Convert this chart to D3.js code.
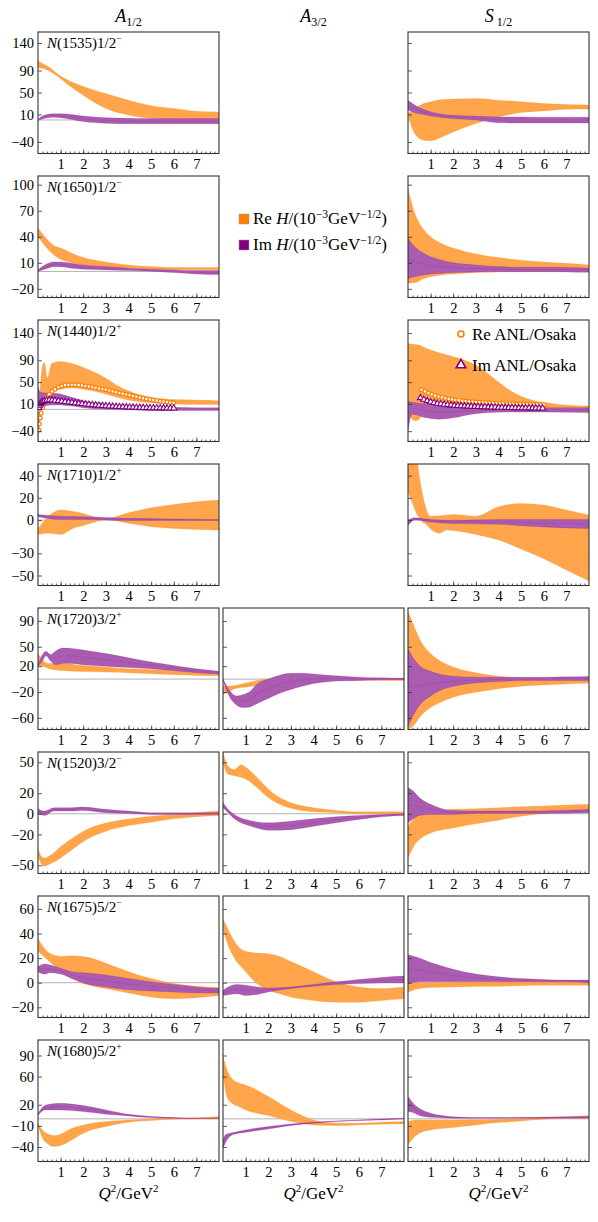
<!DOCTYPE html>
<html>
<head>
<meta charset="utf-8">
<script src="https://cdn.jsdelivr.net/npm/d3@7"></script>
<style>
body { margin: 0; background: #fff; }
svg text { font-family: "Liberation Serif", "Times New Roman", serif; fill: #000; }
</style>
</head>
<body>
<svg id="chart" width="598" height="1222"></svg>
<script>
// ---- data: [Q2, lower, upper] of each band ----
var n1535_A12_re = [[0,96,107],[0.5,89,96],[1,75,80],[1.5,59,69],[2,45,61],[3,21,48],[4,9,36],[5,3,26],[6,1.5,21],[7,1,16],[8,1,14.5]];
var n1535_A12_im = [[0,-1,1],[0.3,3,9],[0.7,5,11.5],[1,4,11.5],[1.5,1,10],[2,-3,7],[3,-6,4],[4,-7,3],[5,-7,2.5],[6,-7,2.5],[7,-7,2.5],[8,-7,2.5]];
var n1535_S12_re = [[0,8.5,11.5],[0.3,-25,21],[0.7,-37,30],[1,-38,33],[1.5,-31,37],[2,-22,38],[3,-6.5,39],[4,5.5,36],[5,13.5,33],[6,16.5,30],[7,19.5,28],[8,20,27]];
var n1535_S12_im = [[0,18,36],[0.3,13,27],[0.7,10,19],[1,7,15],[1.5,4.5,10.5],[2,2.5,8.5],[3,0,7],[4,-5,5.5],[5,-5.5,5.5],[6,-5.5,5],[7,-5.5,5],[8,-5.5,5]];

var n1650_A12_re = [[0,40,50],[0.3,30,40],[0.7,19,30],[1,14,27],[1.5,10,21],[2,7.5,16],[3,5,11],[4,3.7,7.5],[5,2.5,5.6],[6,2,4.5],[7,2,4.5],[8,2,4.5]];
var n1650_A12_im = [[0,0,2],[0.3,2.5,7.5],[0.7,5.5,11],[1,5.5,11],[1.5,3.7,9.5],[2,2.5,7.5],[3,1.8,5.6],[4,1,3.7],[5,0.3,2.5],[6,-1.3,1.8],[7,-2.8,1],[8,-3.6,1]];
var n1650_S12_re = [[0,-13.5,95],[0.3,-13,67],[0.7,-8,48],[1,-6,40],[1.5,-4,32],[2,-3,27],[3,-1.3,20],[4,-0.5,16],[5,-0.2,13],[6,-0.2,11],[7,-0.2,9.5],[8,-0.2,7.5]];
var n1650_S12_im = [[0,-8,38],[0.3,-6,28.5],[0.7,-4,21],[1,-3,17],[1.5,-2,13],[2,-1.3,10],[3,-0.5,7.5],[4,-0.2,5.6],[5,-0.2,4.8],[6,-0.2,4.8],[7,-0.5,4.5],[8,-1,3.7]];

var n1440_A12_re = [[0,-59,-40],[0.1,-20,40],[0.2,10,80],[0.28,22,86],[0.42,28,58],[0.6,31,84],[1,37,88],[1.5,39,84],[2,37,77],[2.5,33,68],[3,28,57],[3.5,22,44],[4,17,34],[5,12,22],[6,10,18],[7,9,17],[8,9,16]];
var n1440_A12_im = [[0,2,42],[0.1,4,32],[0.3,6,30],[0.6,8,30],[1,8,28],[1.5,6,22],[2,3,16],[3,0,10],[4,-1,7],[5,-2,5],[6,-2,4],[7,-2,3],[8,-2,3]];
var n1440_S12_re = [[0,-6,121],[0.3,-21,119],[0.5,-18,118],[0.7,-2,114],[1,3,109],[1.7,5,100],[2.5,5,90],[3.2,4,76],[4,3,50],[4.7,2.5,30],[5.4,2,18],[6.5,2,10],[8,2,6]];
var n1440_S12_im = [[0,-40,15],[0.18,-9,13],[0.75,-15,10],[1.35,-18,8],[2.1,-15,6],[2.8,-9,5],[4.3,-5,3],[6,-5,3],[8,-6,3]];

var n1710_A12_re = [[0,-13,-8],[0.5,-12,4],[1,-13,9],[1.5,-8,8],[2,-5,6],[2.5,-2,3],[3,0.4,1.3],[4,-3,6.5],[5,-6,11],[6,-7.7,14],[7,-8.6,16.4],[8,-9.2,18]];
var n1710_A12_im = [[0,3,5],[1,0.4,3.4],[2,0.5,3],[4,-0.5,1.5],[6,-0.5,1],[8,-0.5,0.5]];
var n1710_S12_re = [[0,25,90],[0.2,15,75],[0.4,5,55],[0.5,2,40],[0.6,-1,28],[0.75,-3,14],[0.9,-6,5],[1,-8,3.5],[1.4,-12,3.8],[1.7,-9,4.5],[2,-9.5,5],[3,-13,3.5],[4,-18,12],[5,-26,15],[6,-35,13.5],[7,-45,9],[8,-55,4.5]];
var n1710_S12_im = [[0,-5,0],[0.3,0,2],[0.7,-0.8,1.3],[1,-1.7,0.4],[2,-3.2,-0.2],[4,-3.8,0.4],[6,-6.2,0.4],[8,-7.7,0.4]];

var n1720_A12_re = [[0,21,40],[0.3,18.6,26.4],[0.5,16,24],[1,13.4,24],[2,11.8,21],[3,10.8,18.6],[4,9.7,16],[5,8.2,15],[6,6.6,13.4],[7,5.6,10.8],[8,5,8.2]];
var n1720_A12_im = [[0,20,22],[0.2,28,38],[0.35,36,43],[0.55,28,38],[0.8,22,44],[1.1,24,48],[1.5,24,47.5],[2,22,45],[3,20,39.5],[4,18,33],[5,16,26.5],[6,13,21],[7,10,16],[8,8,12]];
var n1720_A32_re = [[0,-23,-10],[0.2,-21.6,-11],[0.5,-15,-10],[1,-12.7,-6],[2,-7.5,0.3],[3,-3.8,1.4],[4,-2,1],[6,-2,1],[8,-2,1]];
var n1720_A32_im = [[0,-2,0],[0.3,-28,-18],[0.6,-40,-26],[0.9,-44,-24],[1.2,-43,-19],[1.5,-38,-8],[2,-30,0],[2.5,-22,6],[3,-16,9],[3.5,-11,9],[4,-7,8],[5,-3,5],[6,-2,3],[7,-1,2],[8,-1,1.5]];
var n1720_S12_re = [[0,-78,105],[0.3,-70,79],[0.5,-60,63],[1,-44,39.5],[1.5,-35,26.4],[2,-28,18.6],[3,-20.5,9.7],[4,-15,4.5],[5,-11,1.9],[6,-9,0.3],[7,-7.5,0.3],[8,-6.5,0.3]];
var n1720_S12_im = [[0,-73,47],[0.3,-52,29],[0.5,-41,21],[1,-26,12],[1.5,-16.4,6.6],[2,-11.2,4.5],[3,-6,3],[4,-3.8,3],[5,-2.3,3],[6,-2.3,3],[7,-2.3,3.5],[8,-2.3,4]];

var n1520_A12_re = [[0,-41,-35],[0.25,-51,-43],[0.5,-49,-41],[1,-43,-32],[1.5,-35,-24],[2,-27,-17],[3,-17,-9],[4,-11.5,-5],[5,-8.2,-2.3],[6,-4.9,-0.6],[7,-2.9,1],[8,-1.6,2.6]];
var n1520_A12_im = [[0,0.3,5],[0.3,-1.6,2.6],[0.7,2.6,5.9],[1,2.6,5.9],[1.5,2.6,5.9],[2,3.3,6.6],[3,1,4.3],[4,0.3,2.6],[5,-0.6,1],[6,-0.6,1],[7,-0.6,1],[8,-0.6,1]];
var n1520_A32_re = [[0,50,60],[0.2,38.7,46.9],[0.5,37,43],[0.8,35.4,47.5],[1,33.8,45.2],[1.5,25.6,35.4],[2,15.7,24],[2.5,9.2,15.7],[3,5.3,10.8],[4,2,5.9],[5,1,3.3],[6,0,2],[7,0,2],[8,0,2]];
var n1520_A32_im = [[0,5.9,10.8],[0.3,-0.6,2.6],[0.5,-4.9,-0.6],[1,-10.5,-5.6],[1.5,-13.8,-7.9],[2,-16,-8.8],[3,-15.4,-7.2],[4,-12.1,-4.9],[5,-8.8,-2.9],[6,-5.6,-1.6],[7,-2.9,-0.6],[8,-1.6,0]];
var n1520_S12_re = [[0,-43,-12],[0.3,-30,-3.9],[0.5,-25,-0.6],[1,-18.7,1.7],[2,-13.8,4.3],[3,-9.8,5],[4,-6.2,5.9],[5,-2.3,6.9],[6,0.3,7.6],[7,2.6,8.5],[8,4.3,9.2]];
var n1520_S12_im = [[0,-8.8,25.6],[0.3,-3.9,20.7],[0.5,-1.6,15.7],[1,-0.6,9.2],[1.5,-0.6,5],[2,-0.6,3.3],[3,0.3,2.6],[5,0.3,2.6],[7,0.5,3.5],[8,1,4.3]];

var n1675_A12_re = [[0,25.5,35.7],[0.5,17.2,24.1],[1,9,21.4],[1.5,3.4,21.9],[2,-0.7,21.4],[2.5,-3,19.2],[3,-4.8,15.9],[4,-8.4,9],[5,-11.7,3.4],[6,-13.1,-0.7],[7,-12.3,-2.9],[8,-10.4,-4]];
var n1675_A12_im = [[0,9,13.1],[0.3,7,15.3],[0.5,8.1,14.5],[1,7,11.7],[1.5,3.4,9],[2,-0.2,8.1],[3,-3.5,6.2],[4,-5.7,3.4],[5,-6.8,0.7],[6,-7.6,-1.5],[7,-8.4,-3.5],[8,-8.4,-4.8]];
var n1675_A32_re = [[0,43.5,51.7],[0.3,26.9,40.7],[0.5,20,33.8],[1,9,25.5],[1.5,-0.7,24.1],[2,-6.2,23.6],[2.5,-9,21.4],[3,-11.7,17.2],[4,-14.5,9],[5,-15.9,0.7],[6,-15.9,-3.5],[7,-14.5,-4.8],[8,-13.1,-3.5]];
var n1675_A32_im = [[0,-10.4,-6.2],[0.3,-9.5,-2.9],[0.6,-9,-1.5],[1,-10.4,-2.1],[1.5,-9.5,-3.5],[2,-7.6,-4.3],[3,-4.8,-3.5],[4,-2.9,-1.5],[5,-1.5,0.7],[6,-0.7,2.6],[7,-0.2,4.3],[8,-0.2,5.4]];
var n1675_S12_re = [[0,-7.6,0],[0.5,-4.8,0],[1,-4,0],[2,-3.5,0.3],[4,-2.9,1],[6,-2.1,1.3],[8,-2.1,1.5]];
var n1675_S12_im = [[0,-0.7,22.7],[0.5,0.7,20],[1,0.7,16.4],[1.5,0.7,13.6],[2,0.7,10.9],[3,0.7,7],[4,0.7,4.8],[5,0.7,3.4],[6,0.7,2.6],[7,0.7,2.1],[8,-0.2,2.1]];

var n1680_A12_re = [[0,-8.6,-6.2],[0.2,-27.5,-16],[0.4,-34.6,-21],[0.7,-39.3,-23.7],[1,-37.9,-21.8],[1.5,-29.9,-13.3],[2,-20.4,-8.6],[3,-11,-3.9],[4,-4.8,-1.5],[5,-2.5,-0.1],[6,-0.6,0.9],[7,-0.1,1.5],[8,0,3.2]];
var n1680_A12_im = [[0,4.7,8],[0.3,12.7,18.8],[0.5,12.7,20.7],[1,12.7,22.1],[2,10.3,18.8],[3,6.5,12.7],[4,4.2,6.5],[5,1.8,3.2],[6,0.9,1.8],[7,0.5,0.9],[8,0.5,0.9]];
var n1680_A32_re = [[0,62.3,88.4],[0.2,29.2,68],[0.4,22.1,57],[0.7,17.4,51],[1,12.7,48.2],[1.5,8,41.1],[2,4.7,31.6],[2.5,0.5,22.1],[3,-3.9,12.7],[3.5,-6.5,4.7],[4,-8.6,-1.5],[5,-9.5,-6.2],[6,-8.6,-6.2],[7,-7.6,-4.8],[8,-7.2,-3.9]];
var n1680_A32_im = [[0,-41.7,-29.9],[0.1,-34.6,-22.8],[0.3,-25.1,-20.4],[0.5,-21.8,-19],[1,-19,-15.7],[2,-14.3,-11],[3,-9.5,-7.2],[4,-6.2,-4.8],[5,-3.9,-2.9],[6,-2.5,-1.5],[7,-1.5,-0.1],[8,-0.1,0.9]];
var n1680_S12_re = [[0,-36.9,-3.9],[0.3,-25.1,-1.5],[0.5,-20.4,-1.5],[1,-15.7,-1.5],[2,-12.4,-1.5],[3,-8.6,-1],[4,-5.3,-0.5],[5,-2.9,-0.1],[6,-0.6,1.8],[7,0.9,3],[8,0.9,4.7]];
var n1680_S12_im = [[0,10.3,31.6],[0.3,8,19.8],[0.5,4.7,15],[1,2.3,8],[1.5,1.5,4.7],[2,0.9,2.8],[3,0.9,1.8],[8,0.9,3.2]];

// ANL/Osaka points for N(1440): [Q2, value]
var anl_A12_re = [[0.03,-38],[0.06,-27],[0.1,-16],[0.14,-7],[0.2,3],[0.28,13],[0.38,21],[0.5,28],[0.62,33],[0.75,37],[0.9,41],[1.05,43],[1.2,44.5],[1.35,45],[1.5,45],[1.65,45],[1.8,44.5],[1.95,44],[2.1,43],[2.25,42],[2.4,40.8],[2.55,39.5],[2.7,38.2],[2.85,37],[3,36],[3.15,34.5],[3.3,33],[3.45,31.5],[3.6,30],[3.75,28.5],[3.9,27.2],[4.05,25.8],[4.2,24.4],[4.35,23],[4.5,21.6],[4.65,20.4],[4.8,19.2],[4.95,18],[5.1,17],[5.25,16],[5.4,15],[5.55,14.2],[5.7,13.4],[5.85,12.7],[6,12]];
var anl_A12_im = [[0.03,3],[0.06,7],[0.1,10],[0.14,12],[0.2,14],[0.28,15.5],[0.38,16.5],[0.5,17],[0.62,16.8],[0.75,16.3],[0.9,15.6],[1.05,14.8],[1.2,14],[1.35,13.2],[1.5,12.4],[1.65,11.6],[1.8,10.9],[1.95,10.2],[2.1,9.5],[2.25,8.9],[2.4,8.3],[2.55,7.7],[2.7,7.2],[2.85,6.7],[3,6.2],[3.15,5.8],[3.3,5.4],[3.45,5],[3.6,4.7],[3.75,4.4],[3.9,4.1],[4.05,3.8],[4.2,3.6],[4.35,3.4],[4.5,3.2],[4.65,3],[4.8,2.8],[4.95,2.6],[5.1,2.5],[5.25,2.4],[5.4,2.3],[5.55,2.2],[5.7,2.1],[5.85,2],[6,1.9]];
var anl_S12_re = [[0.6,36],[0.75,33],[0.9,30],[1.05,27.5],[1.2,25.5],[1.35,23.5],[1.5,22],[1.65,20.5],[1.8,19.3],[1.95,18.2],[2.1,17.2],[2.25,16.4],[2.4,15.6],[2.55,15],[2.7,14.4],[2.85,13.9],[3,13.4],[3.15,13],[3.3,12.6],[3.45,12.2],[3.6,11.9],[3.75,11.6],[3.9,11.3],[4.05,11],[4.2,10.8],[4.35,10.5],[4.5,10.3],[4.65,10.1],[4.8,9.9],[4.95,9.7],[5.1,9.5],[5.25,9.3],[5.4,9.2],[5.55,9],[5.7,8.9],[5.85,8.7],[6,8.6]];
var anl_S12_im = [[0.55,21],[0.7,18],[0.85,15.5],[1,13.5],[1.15,12],[1.3,10.8],[1.45,9.8],[1.6,9],[1.75,8.3],[1.9,7.7],[2.05,7.2],[2.2,6.7],[2.35,6.3],[2.5,5.9],[2.65,5.6],[2.8,5.3],[2.95,5],[3.1,4.7],[3.25,4.5],[3.4,4.3],[3.55,4.1],[3.7,3.9],[3.85,3.7],[4,3.5],[4.15,3.3],[4.3,3.2],[4.45,3],[4.6,2.9],[4.75,2.8],[4.9,2.6],[5.05,2.5],[5.2,2.4],[5.35,2.3],[5.5,2.2],[5.65,2.1],[5.8,2],[5.95,1.9]];

// states, y ranges and tick labels per row
var masses = ["1535", "1650", "1440", "1710", "1720", "1520", "1675", "1680"];
var spins = ["1/2", "1/2", "1/2", "1/2", "3/2", "3/2", "5/2", "5/2"];
var parities = ["\u2212", "\u2212", "+", "+", "+", "\u2212", "\u2212", "+"];
var yRanges = [[-61,160],[-30,110],[-59,164],[-59,50.5],[-78,110],[-58,60],[-28.3,70.5],[-60.6,112]];
var yTicks = [[140,90,50,10,-40],[100,70,40,10,-20],[140,90,50,10,-40],[40,20,0,-30,-50],[90,50,20,-20,-60],[50,20,0,-20,-50],[60,40,20,0,-20],[90,60,20,-10,-40]];
var xTicks = [1, 2, 3, 4, 5, 6, 7];
var ampNames = [["A", "1/2"], ["A", "3/2"], ["S", "1/2"]];

var bandsByRow = [
  [[n1535_A12_re, n1535_A12_im], null, [n1535_S12_re, n1535_S12_im]],
  [[n1650_A12_re, n1650_A12_im], null, [n1650_S12_re, n1650_S12_im]],
  [[n1440_A12_re, n1440_A12_im], null, [n1440_S12_re, n1440_S12_im]],
  [[n1710_A12_re, n1710_A12_im], null, [n1710_S12_re, n1710_S12_im]],
  [[n1720_A12_re, n1720_A12_im], [n1720_A32_re, n1720_A32_im], [n1720_S12_re, n1720_S12_im]],
  [[n1520_A12_re, n1520_A12_im], [n1520_A32_re, n1520_A32_im], [n1520_S12_re, n1520_S12_im]],
  [[n1675_A12_re, n1675_A12_im], [n1675_A32_re, n1675_A32_im], [n1675_S12_re, n1675_S12_im]],
  [[n1680_A12_re, n1680_A12_im], [n1680_A32_re, n1680_A32_im], [n1680_S12_re, n1680_S12_im]]
];
var anlByCol = [[anl_A12_re, anl_A12_im], null, [anl_S12_re, anl_S12_im]];

// ---- layout ----
var colX = [38, 223, 408];
var panelW = 181, panelH = 121.5;
var rowTop = 32, rowStep = 144;
var orange = "#ff8000", purple = "#800080";
var orangeFill = "#ffa64d", purpleFill = "#aa5cb0";

var svg = d3.select("#chart");

var x = d3.scaleLinear().domain([0, 8]).range([0, panelW]);

function bandArea(y){
  return d3.area().x(function(d){ return x(d[0]); })
    .y0(function(d){ return y(d[1]); })
    .y1(function(d){ return y(d[2]); })
    .curve(d3.curveMonotoneX);
}
function edge(y, k){
  return d3.line().x(function(d){ return x(d[0]); })
    .y(function(d){ return k == 3 ? y((d[1] + d[2]) / 2) : y(d[k]); })
    .curve(d3.curveMonotoneX);
}

function drawBand(g, data, y, fill, col){
  g.append("path").datum(data).attr("d", bandArea(y))
    .attr("fill", fill).attr("stroke", "none");
  [1, 2, 3].forEach(function(k){
    g.append("path").datum(data).attr("d", edge(y, k))
      .attr("fill", "none").attr("stroke", col)
      .attr("stroke-opacity", k == 3 ? 0.22 : 0.3).attr("stroke-width", 0.6);
  });
}

var clipN = 0;
bandsByRow.forEach(function(row, i){
  var y = d3.scaleLinear().domain(yRanges[i]).range([panelH, 0]);
  row.forEach(function(bands, j){
    if (!bands) return;
    var g = svg.append("g").attr("transform", "translate(" + colX[j] + "," + (rowTop + i * rowStep) + ")");
    var id = "clip" + (clipN++);
    g.append("clipPath").attr("id", id).append("rect")
      .attr("width", panelW).attr("height", panelH);
    var inner = g.append("g").attr("clip-path", "url(#" + id + ")");

    // zero line
    inner.append("line").attr("x1", 0).attr("x2", panelW)
      .attr("y1", y(0)).attr("y2", y(0))
      .attr("stroke", "#b4b4b4").attr("stroke-width", 1);

    drawBand(inner, bands[0], y, orangeFill, orange);
    drawBand(inner, bands[1], y, purpleFill, purple);

    // ANL/Osaka points only for N(1440)
    if (i == 2 && anlByCol[j]) {
      inner.selectAll("circle.re").data(anlByCol[j][0]).enter().append("circle")
        .attr("cx", function(d){ return x(d[0]); })
        .attr("cy", function(d){ return y(d[1]); })
        .attr("r", 1.9).attr("fill", "#fff")
        .attr("stroke", orange).attr("stroke-width", 1.2);
      inner.selectAll("path.im").data(anlByCol[j][1]).enter().append("path")
        .attr("d", d3.symbol().type(d3.symbolTriangle).size(16))
        .attr("transform", function(d){ return "translate(" + x(d[0]) + "," + y(d[1]) + ")"; })
        .attr("fill", "#fff").attr("stroke", purple).attr("stroke-width", 1.1);
    }

    // axes
    var yAxis = d3.axisLeft(y).tickValues(yTicks[i]).tickSize(-4).tickPadding(4);
    if (j > 0) yAxis.tickFormat("");
    var ya = g.append("g").call(yAxis);
    var xa = g.append("g").attr("transform", "translate(0," + panelH + ")")
      .call(d3.axisBottom(x).tickValues(xTicks).tickSize(-4).tickPadding(5));
    var xm = g.append("g").attr("transform", "translate(0," + panelH + ")")
      .call(d3.axisBottom(x).tickValues(d3.range(0.2, 8, 0.2)).tickSize(-2).tickFormat(""));
    [ya, xa, xm].forEach(function(a){
      a.select(".domain").remove();
      a.selectAll("line").attr("stroke", "#333").attr("stroke-width", 0.8);
      a.selectAll("text").attr("font-size", 14.5);
    });

    g.append("rect").attr("width", panelW).attr("height", panelH)
      .attr("fill", "none").attr("stroke", "#333").attr("stroke-width", 1.1);

    if (j == 0) {
      var t = g.append("text").attr("x", 9).attr("y", 16).attr("font-size", 15);
      t.append("tspan").attr("font-style", "italic").text("N");
      t.append("tspan").text("(" + masses[i] + ")" + spins[i]);
      t.append("tspan").attr("font-size", 9.5).attr("dy", -6).text(parities[i]);
    }
  });
});

// column headers and x labels
ampNames.forEach(function(a, j){
  var cx = colX[j] + panelW / 2;
  var t = svg.append("text").attr("x", cx).attr("y", 22)
    .attr("text-anchor", "middle").attr("font-size", 18);
  t.append("tspan").attr("font-style", "italic").text(a[0]);
  t.append("tspan").attr("font-size", 12).attr("dy", 4).attr("dx", j == 2 ? 3 : 0).text(a[1]);

  var q = svg.append("text").attr("x", cx).attr("y", 1199)
    .attr("text-anchor", "middle").attr("font-size", 17);
  q.append("tspan").attr("font-style", "italic").text("Q");
  q.append("tspan").attr("font-size", 11).attr("dy", -7).text("2");
  q.append("tspan").attr("dy", 7).text("/GeV");
  q.append("tspan").attr("font-size", 11).attr("dy", -7).text("2");
});

// legend: bands
[["Re", orange, 224], ["Im", purple, 250]].forEach(function(l){
  svg.append("rect").attr("x", 239).attr("y", l[2] - 10).attr("width", 10).attr("height", 10)
    .attr("fill", l[1]).attr("stroke", "#999").attr("stroke-width", 0.5);
  var t = svg.append("text").attr("x", 253).attr("y", l[2]).attr("font-size", 17);
  t.append("tspan").text(l[0] + " ");
  t.append("tspan").attr("font-style", "italic").text("H");
  t.append("tspan").text("/(10");
  t.append("tspan").attr("font-size", 11.5).attr("dy", -6).text("\u22123");
  t.append("tspan").attr("dy", 6).text("GeV");
  t.append("tspan").attr("font-size", 11.5).attr("dy", -6).text("\u22121/2");
  t.append("tspan").attr("dy", 6).text(")");
});

// legend: ANL/Osaka
svg.append("circle").attr("cx", 461).attr("cy", 334).attr("r", 3)
  .attr("fill", "#fff").attr("stroke", orange).attr("stroke-width", 1.6);
svg.append("text").attr("x", 472).attr("y", 339.5).attr("font-size", 17).text("Re ANL/Osaka");
svg.append("path").attr("d", d3.symbol().type(d3.symbolTriangle).size(40))
  .attr("transform", "translate(461,365)")
  .attr("fill", "#fff").attr("stroke", purple).attr("stroke-width", 1.6);
svg.append("text").attr("x", 472).attr("y", 370.5).attr("font-size", 17).text("Im ANL/Osaka");
</script>
</body>
</html>
